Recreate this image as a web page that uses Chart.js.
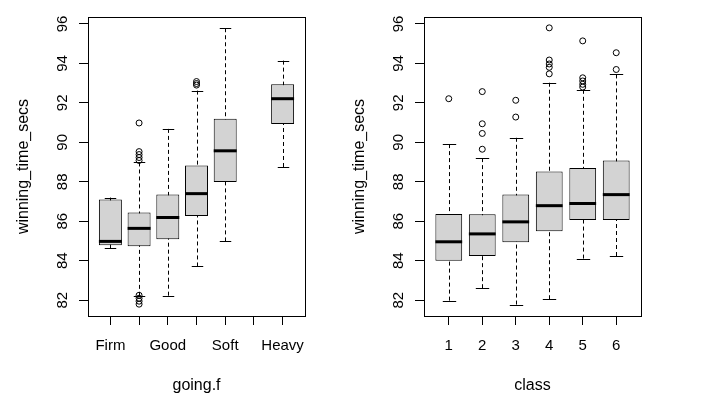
<!DOCTYPE html>
<html><head><meta charset="utf-8">
<script src="https://cdn.jsdelivr.net/npm/chart.js@4"></script>
<style>
html,body{margin:0;padding:0;background:#fff;}
#wrap{position:relative;width:716px;height:399px;overflow:hidden;background:#fff;}
.c{position:absolute;top:0;width:358px;height:399px;}
</style></head><body>
<div id="wrap">
<div class="c" style="left:0"><canvas id="c1" width="358" height="399"></canvas></div>
<div class="c" style="left:336px"><canvas id="c2" width="358" height="399"></canvas></div>
</div>
<script>
// ---- data ----
const yTicks = [82, 84, 86, 88, 90, 92, 94, 96];
const yTitle = 'winning_time_secs';

const goingTitle = 'going.f';
const goingLabels = ['Firm', '', 'Good', '', 'Soft', '', 'Heavy'];
const goingLow  = [84.63, 82.22, 82.23, 83.71, 84.98, null, 88.75];
const goingQ1   = [84.79, 84.74, 85.09, 86.27, 87.99, null, 90.93];
const goingMed  = [84.98, 85.64, 86.19, 87.40, 89.57, null, 92.21];
const goingQ3   = [87.10, 86.44, 87.35, 88.83, 91.19, null, 92.94];
const goingHigh = [87.20, 88.98, 90.68, 92.62, 95.78, null, 94.14];
const goingOutliers = [[], [90.98, 89.53, 89.38, 89.23, 89.08, 82.25, 82.10, 81.95, 81.80], [], [93.08, 92.98, 92.90], [], [], []];

const classTitle = 'class';
const classLabels = ['1', '2', '3', '4', '5', '6'];
const classLow  = [81.98, 82.61, 81.78, 82.05, 84.11, 84.24];
const classQ1   = [84.00, 84.24, 84.94, 85.49, 86.07, 86.06];
const classMed  = [84.96, 85.36, 85.97, 86.79, 86.90, 87.35];
const classQ3   = [86.37, 86.36, 87.35, 88.52, 88.70, 89.08];
const classHigh = [89.91, 89.20, 90.23, 93.02, 92.66, 93.44];
const classOutliers = [[92.21], [92.57, 90.94, 90.45, 89.65], [92.13, 91.28], [95.80, 94.17, 93.97, 93.80, 93.47], [95.14, 93.27, 93.11, 92.94, 92.80], [94.54, 93.69]];

// ---- rendering ----
Chart.defaults.font.family = "'Liberation Sans', Arial, sans-serif";
Chart.defaults.color = '#000';

function makePlugin(low, med, high, boxHalf) {
  return {
    id: 'boxparts',
    beforeDatasetsDraw(chart) {
      const ctx = chart.ctx, xs = chart.scales.x, ys = chart.scales.y;
      ctx.save();
      ctx.strokeStyle = '#000';
      ctx.lineWidth = 1;
      low.forEach((lo, i) => {
        if (lo == null) return;
        const cx = Math.round(xs.getPixelForValue(i + 1)) + 0.5;
        const hw = Math.abs(xs.getPixelForValue(i + 1 + boxHalf) - xs.getPixelForValue(i + 1));
        const yLo = ys.getPixelForValue(lo), yHi = ys.getPixelForValue(high[i]);
        const yMid = ys.getPixelForValue(med[i]);
        ctx.setLineDash([4, 3]);
        ctx.beginPath();
        ctx.moveTo(cx, yHi); ctx.lineTo(cx, yMid);
        ctx.moveTo(cx, yLo); ctx.lineTo(cx, yMid);
        ctx.stroke();
        ctx.setLineDash([]);
        ctx.beginPath();
        const yh = Math.round(yHi) + 0.5, yl = Math.round(yLo) + 0.5;
        ctx.moveTo(cx - hw / 2, yh); ctx.lineTo(cx + hw / 2, yh);
        ctx.moveTo(cx - hw / 2, yl); ctx.lineTo(cx + hw / 2, yl);
        ctx.stroke();
      });
      ctx.restore();
    },
    afterDatasetsDraw(chart) {
      const ctx = chart.ctx, xs = chart.scales.x, ys = chart.scales.y;
      ctx.save();
      ctx.strokeStyle = '#000';
      ctx.lineWidth = 3;
      med.forEach((m, i) => {
        if (m == null) return;
        const cx = xs.getPixelForValue(i + 1);
        const hw = Math.abs(xs.getPixelForValue(i + 1 + boxHalf) - cx);
        const y = ys.getPixelForValue(m);
        ctx.beginPath();
        ctx.moveTo(cx - hw, y); ctx.lineTo(cx + hw, y);
        ctx.stroke();
      });
      const a = chart.chartArea;
      ctx.lineWidth = 1;
      ctx.strokeRect(Math.round(a.left) + 0.5, Math.round(a.top) + 0.5,
        Math.round(a.right - a.left), Math.round(a.bottom - a.top));
      ctx.restore();
    }
  };
}

function makeChart(id, labels, low, q1, med, q3, high, outliers, xTitle, xMin, xMax) {
  const boxes = [];
  labels.forEach((l, i) => { if (q1[i] != null) boxes.push({ x: i + 1, y: [q1[i], q3[i]] }); });
  const pts = [];
  outliers.forEach((arr, i) => arr.forEach(v => pts.push({ x: i + 1, y: v })));
  return new Chart(document.getElementById(id), {
    type: 'scatter',
    data: {
      datasets: [
        { type: 'bar', data: boxes, backgroundColor: '#d3d3d3', borderColor: '#000',
          borderWidth: 1, borderSkipped: false, barPercentage: 0.8, categoryPercentage: 1, order: 2 },
        { type: 'scatter', data: pts, pointStyle: 'circle', pointRadius: 3,
          borderColor: '#000', borderWidth: 1, backgroundColor: 'rgba(0,0,0,0)', order: 1 }
      ]
    },
    options: {
      responsive: false, animation: false, devicePixelRatio: 1,
      layout: { padding: { left: 0, right: 53, top: 13, bottom: 0 } },
      plugins: { legend: { display: false }, tooltip: { enabled: false } },
      scales: {
        x: {
          type: 'linear', min: xMin, max: xMax, offset: false,
          afterBuildTicks: s => { s.ticks = labels.map((_, i) => ({ value: i + 1 })); },
          afterFit: s => { s.height = 83; },
          ticks: { autoSkip: false, maxRotation: 0, minRotation: 0, padding: 12,
            font: { size: 15 }, color: '#000',
            callback: v => labels[Math.round(v) - 1] },
          grid: { drawOnChartArea: false, offset: false, tickLength: 9, color: '#000', tickColor: '#000' },
          border: { display: false },
          title: { display: true, text: xTitle, font: { size: 16 }, color: '#000', padding: { top: 0, bottom: 4 } }
        },
        y: {
          type: 'linear', min: 81.2, max: 96.35,
          afterBuildTicks: s => { s.ticks = yTicks.map(v => ({ value: v })); },
          afterFit: s => { s.width = 88; },
          ticks: { minRotation: 90, maxRotation: 90, crossAlign: 'center', padding: 8,
            font: { size: 15 }, color: '#000' },
          grid: { drawOnChartArea: false, tickLength: 9, color: '#000', tickColor: '#000' },
          border: { display: false },
          title: { display: true, text: yTitle, font: { size: 16 }, color: '#000', padding: { top: 14, bottom: 0 } }
        }
      }
    },
    plugins: [makePlugin(low, med, high, 0.4)]
  });
}

makeChart('c1', goingLabels, goingLow, goingQ1, goingMed, goingQ3, goingHigh, goingOutliers, goingTitle, 0.22, 7.78);
makeChart('c2', classLabels, classLow, classQ1, classMed, classQ3, classHigh, classOutliers, classTitle, 0.26, 6.74);
</script>
</body></html>
